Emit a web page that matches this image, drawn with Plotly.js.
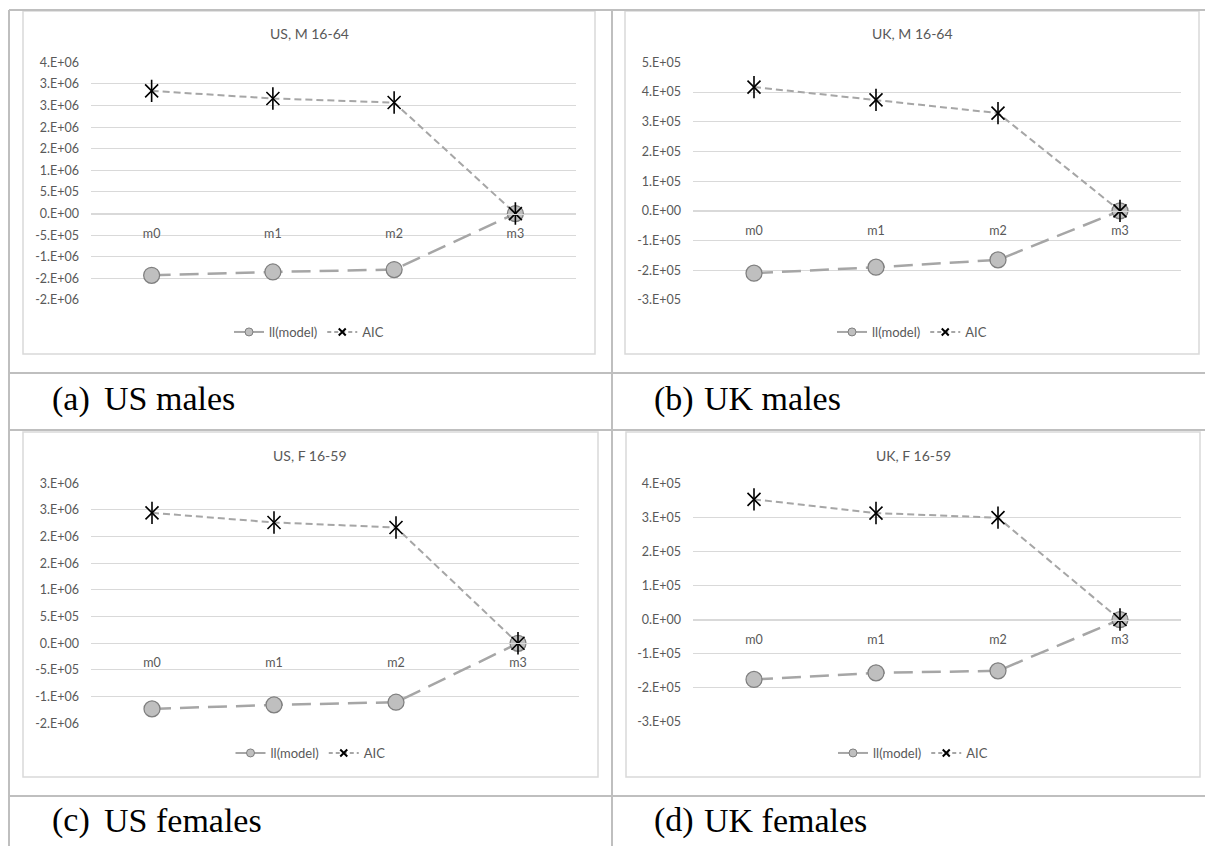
<!DOCTYPE html>
<html><head><meta charset="utf-8">
<script src="https://cdn.plot.ly/plotly-3.0.1.min.js"></script>
<style>html,body{margin:0;padding:0;background:#fff;} #chart{width:1205px;height:846px;}</style>
</head><body><div id="chart"></div>
<script>
// ---------------- DATA ----------------
const models = ['m0', 'm1', 'm2', 'm3'];
const seriesNames = ['ll(model)', 'AIC'];
const panelTitles = ['US, M 16-64', 'UK, M 16-64', 'US, F 16-59', 'UK, F 16-59'];
const captionLetters = ['(a)', '(b)', '(c)', '(d)'];
const captionTexts = ['US males', 'UK males', 'US females', 'UK females'];

const usMaleLL = [-1428000, -1352000, -1296000, 0];
const usMaleAIC = [2838000, 2662000, 2569000, 0];
const ukMaleLL = [-209800, -189600, -165000, 0];
const ukMaleAIC = [416500, 373700, 329000, 0];
const usFemaleLL = [-1230000, -1155000, -1105000, 0];
const usFemaleAIC = [2446000, 2266000, 2172000, 0];
const ukFemaleLL = [-176000, -156600, -150700, 0];
const ukFemaleAIC = [352800, 312600, 299100, 0];

const usMaleTickVals = [-2e6, -1.5e6, -1e6, -5e5, 0, 5e5, 1e6, 1.5e6, 2e6, 2.5e6, 3e6, 3.5e6];
const usMaleTickText = ['-2.E+06', '-2.E+06', '-1.E+06', '-5.E+05', '0.E+00', '5.E+05', '1.E+06', '2.E+06', '2.E+06', '3.E+06', '3.E+06', '4.E+06'];
const ukMaleTickVals = [-3e5, -2e5, -1e5, 0, 1e5, 2e5, 3e5, 4e5, 5e5];
const ukMaleTickText = ['-3.E+05', '-2.E+05', '-1.E+05', '0.E+00', '1.E+05', '2.E+05', '3.E+05', '4.E+05', '5.E+05'];
const usFemaleTickVals = [-1.5e6, -1e6, -5e5, 0, 5e5, 1e6, 1.5e6, 2e6, 2.5e6, 3e6];
const usFemaleTickText = ['-2.E+06', '-1.E+06', '-5.E+05', '0.E+00', '5.E+05', '1.E+06', '2.E+06', '2.E+06', '3.E+06', '3.E+06'];
const ukFemaleTickVals = [-3e5, -2e5, -1e5, 0, 1e5, 2e5, 3e5, 4e5];
const ukFemaleTickText = ['-3.E+05', '-2.E+05', '-1.E+05', '0.E+00', '1.E+05', '2.E+05', '3.E+05', '4.E+05'];

// ---------------- LAYOUT GEOMETRY (pixels) ----------------
const W = 1205, H = 846;
const px = x => x / W;
const py = y => 1 - y / H;

const panels = [
  {ll: usMaleLL, aic: usMaleAIC, tv: usMaleTickVals, tt: usMaleTickText,
   plotX: [91, 576], plotY: [62.3, 300], box: [23, 11, 595, 354], titleY: 33, legendY: 332, capX: [50, 102], capY: 399},
  {ll: ukMaleLL, aic: ukMaleAIC, tv: ukMaleTickVals, tt: ukMaleTickText,
   plotX: [693, 1181], plotY: [62.3, 300], box: [625, 11, 1199, 354], titleY: 33, legendY: 332, capX: [652, 702], capY: 399},
  {ll: usFemaleLL, aic: usFemaleAIC, tv: usFemaleTickVals, tt: usFemaleTickText,
   plotX: [91, 579], plotY: [483.3, 723.3], box: [23, 432, 598, 777], titleY: 455, legendY: 753, capX: [50, 102], capY: 820},
  {ll: ukFemaleLL, aic: ukFemaleAIC, tv: ukFemaleTickVals, tt: ukFemaleTickText,
   plotX: [693, 1181], plotY: [483.3, 721.7], box: [626, 432, 1200, 777], titleY: 455, legendY: 753, capX: [652, 702], capY: 820}
];

const FONT = 'Lato, "Open Sans", sans-serif';
const SERIF = '"Liberation Serif", "Times New Roman", serif';
const TXT = '#595959';
const GRID = '#d9d9d9';
const LINEGRAY = '#a6a6a6';

const traces = [];
const layout = {
  width: W, height: H,
  margin: {l: 0, r: 0, t: 0, b: 0},
  paper_bgcolor: '#ffffff', plot_bgcolor: '#ffffff',
  showlegend: true,
  annotations: [], shapes: []
};

panels.forEach((p, i) => {
  const n = i === 0 ? '' : String(i + 1);
  const xa = 'x' + n, ya = 'y' + n;
  const legendId = 'legend' + n;
  const ymin = p.tv[0], ymax = p.tv[p.tv.length - 1];
  const yDom = [py(p.plotY[1]), py(p.plotY[0])];
  const zeroPos = yDom[0] + (0 - ymin) / (ymax - ymin) * (yDom[1] - yDom[0]);

  layout['xaxis' + n] = {
    domain: [px(p.plotX[0]), px(p.plotX[1])],
    type: 'category', categoryorder: 'array', categoryarray: models,
    range: [-0.5, models.length - 0.5],
    anchor: 'free', position: zeroPos,
    showgrid: false, zeroline: false,
    showline: true, linecolor: GRID, linewidth: 1,
    ticks: '', ticklabelstandoff: 8,
    tickfont: {family: FONT, size: 12.5, color: TXT},
    fixedrange: true
  };
  layout['yaxis' + n] = {
    domain: yDom, anchor: xa,
    range: [ymin, ymax],
    tickmode: 'array', tickvals: p.tv, ticktext: p.tt,
    showgrid: true, gridcolor: GRID, gridwidth: 1,
    zeroline: false, showline: false, ticks: '',
    ticklabelstandoff: 11,
    tickfont: {family: FONT, size: 12.5, color: TXT},
    fixedrange: true
  };
  layout[legendId] = {
    x: px((p.box[0] + p.box[2]) / 2), xanchor: 'center',
    y: py(p.legendY), yanchor: 'middle',
    orientation: 'h', bgcolor: 'rgba(0,0,0,0)',
    font: {family: FONT, size: 13, color: TXT},
    itemwidth: 30, tracegroupgap: 0
  };

  // plotted series
  traces.push({
    x: models, y: p.ll, name: seriesNames[0], xaxis: xa, yaxis: ya, showlegend: false,
    type: 'scatter', mode: 'lines+markers',
    line: {color: LINEGRAY, width: 2.5, dash: '19px,9px'},
    marker: {symbol: 'circle', size: 16, color: '#bfbfbf', line: {color: '#7f7f7f', width: 1.25}},
    hoverinfo: 'skip'
  });
  traces.push({
    x: models, y: p.aic, name: seriesNames[1], xaxis: xa, yaxis: ya, showlegend: false,
    type: 'scatter', mode: 'lines+markers',
    line: {color: LINEGRAY, width: 2, dash: '7px,4px'},
    marker: {symbol: 'x-thin-open', size: 13, color: '#000000', line: {color: '#000000', width: 1.6}},
    hoverinfo: 'skip'
  });
  traces.push({
    x: models, y: p.aic, name: seriesNames[1], xaxis: xa, yaxis: ya, showlegend: false,
    type: 'scatter', mode: 'markers',
    marker: {symbol: 'line-ns-open', size: 16, color: '#000000', line: {color: '#000000', width: 1.6}},
    hoverinfo: 'skip'
  });
  // legend-only entries (small legend symbols, as in the original)
  traces.push({
    x: [null], y: [null], name: seriesNames[0], xaxis: xa, yaxis: ya, legend: legendId,
    type: 'scatter', mode: 'lines+markers',
    line: {color: LINEGRAY, width: 2},
    marker: {symbol: 'circle', size: 8, color: '#bfbfbf', line: {color: '#7f7f7f', width: 1}},
    hoverinfo: 'skip'
  });
  traces.push({
    x: [null], y: [null], name: seriesNames[1], xaxis: xa, yaxis: ya, legend: legendId,
    type: 'scatter', mode: 'lines+markers',
    line: {color: LINEGRAY, width: 2, dash: '4px,3px'},
    marker: {symbol: 'x-thin-open', size: 7, color: '#000000', line: {color: '#000000', width: 2}},
    hoverinfo: 'skip'
  });

  // chart title
  layout.annotations.push({
    text: panelTitles[i], xref: 'paper', yref: 'paper',
    x: px((p.box[0] + p.box[2]) / 2), y: py(p.titleY), xanchor: 'center', yanchor: 'middle',
    showarrow: false, font: {family: FONT, size: 14, color: TXT}
  });
  // captions
  layout.annotations.push({
    text: captionLetters[i], xref: 'paper', yref: 'paper',
    x: px(p.capX[0]), y: py(p.capY), xanchor: 'left', yanchor: 'middle',
    showarrow: false, font: {family: SERIF, size: 34, color: '#000'}
  });
  layout.annotations.push({
    text: captionTexts[i], xref: 'paper', yref: 'paper',
    x: px(p.capX[1]), y: py(p.capY), xanchor: 'left', yanchor: 'middle',
    showarrow: false, font: {family: SERIF, size: 34, color: '#000'}
  });
  // chart box
  layout.shapes.push({
    type: 'rect', xref: 'paper', yref: 'paper', layer: 'below',
    x0: px(p.box[0]), x1: px(p.box[2]), y0: py(p.box[3]), y1: py(p.box[1]),
    line: {color: GRID, width: 1.5}, fillcolor: 'rgba(0,0,0,0)'
  });
});

// Word table borders
const TB = '#bfbfbf';
const tableLines = [
  [9, 10, 1205, 10], [9, 373, 1205, 373], [9, 430, 1205, 430], [9, 796, 1205, 796],
  [9, 10, 9, 846], [612, 10, 612, 846]
];
tableLines.forEach(l => layout.shapes.push({
  type: 'line', xref: 'paper', yref: 'paper', layer: 'above',
  x0: px(l[0]), y0: py(l[1]), x1: px(l[2]), y1: py(l[3]),
  line: {color: TB, width: 2}
}));

Plotly.newPlot('chart', traces, layout, {staticPlot: true, displayModeBar: false});
</script>
</body></html>
